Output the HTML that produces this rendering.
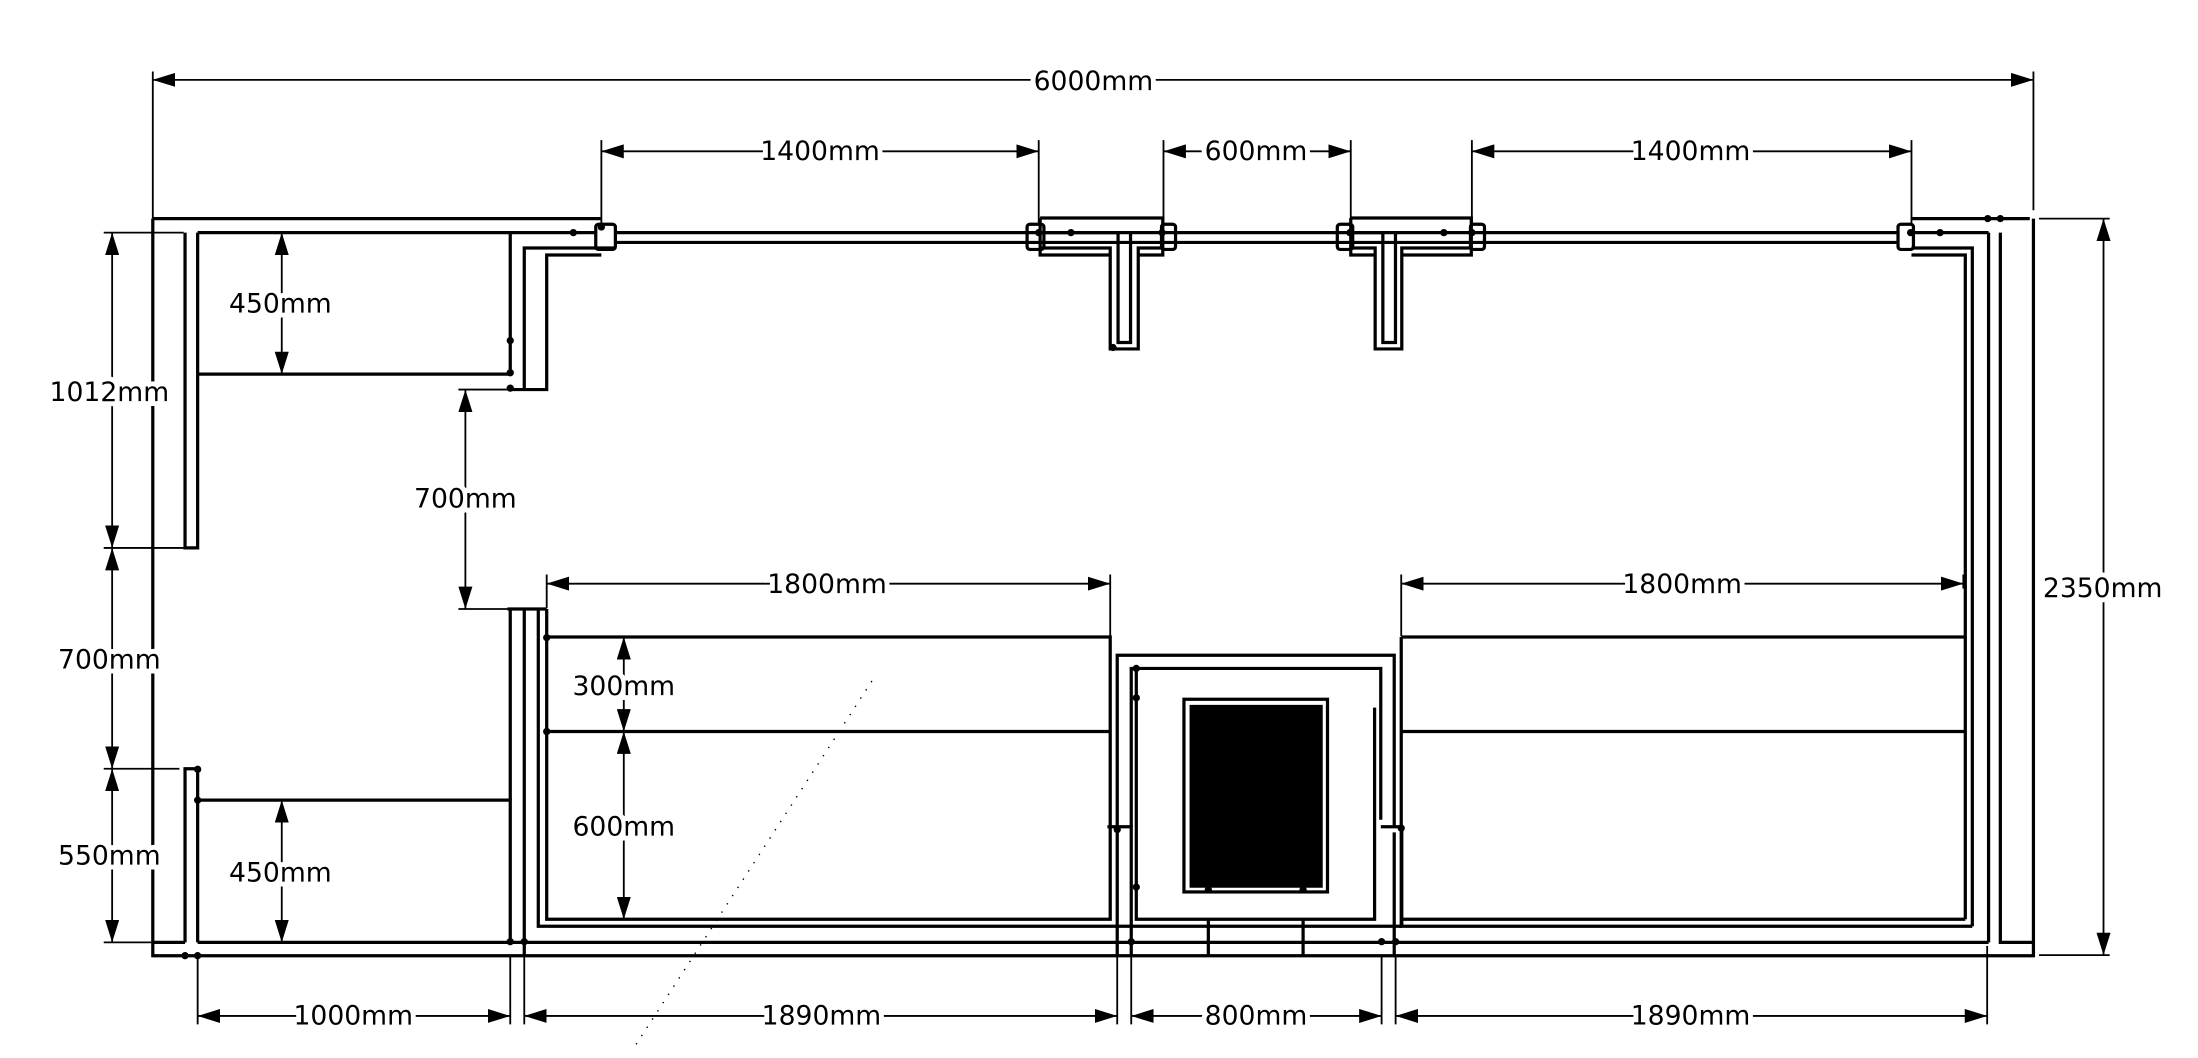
<!DOCTYPE html>
<html><head><meta charset="utf-8"><style>
html,body{margin:0;padding:0;background:#fff;}
svg{display:block;}
text{font-family:"DejaVu Sans","Liberation Sans",sans-serif;font-size:19px;fill:#000;stroke:#fff;stroke-width:7px;paint-order:stroke fill;text-anchor:middle;dominant-baseline:central;}
</style></head><body>
<svg width="2198" height="1058" viewBox="0 0 1568 755" preserveAspectRatio="none" xmlns="http://www.w3.org/2000/svg">
<defs>
<marker id="a" viewBox="0 0 16 10" refX="16" refY="5" markerWidth="16" markerHeight="10" markerUnits="userSpaceOnUse" orient="auto-start-reverse">
<path d="M0,0 L16,5 L0,10 z" fill="#000"/>
</marker>
</defs>
<rect width="1568" height="755" fill="#fff"/>

<g stroke="#000" stroke-width="1.3" fill="none">
  <path d="M109,51V156 M1450.6,51V150 M429,100V160 M741,100V160 M830,100V160 M963.6,100V160 M1050,100V160 M1363.6,100V160
           M74,166H131 M74,391H131 M74,548.6H128 M74,672.5H109
           M327,278H365 M327,434.6H362
           M390,410V434 M792,410V454 M999.6,410V454 M1400.6,410V420
           M1454.6,156H1505 M1454.6,681.6H1505
           M141,682V731 M364,682V731 M374,682V731 M797,682V731 M807,682V731 M985.6,682V731 M995.6,682V731 M1417.6,675V731"/>
  <line x1="109" y1="57" x2="1450.6" y2="57" marker-start="url(#a)" marker-end="url(#a)"/>
  <line x1="429" y1="108" x2="741" y2="108" marker-start="url(#a)" marker-end="url(#a)"/>
  <line x1="830" y1="108" x2="963.6" y2="108" marker-start="url(#a)" marker-end="url(#a)"/>
  <line x1="1050" y1="108" x2="1363.6" y2="108" marker-start="url(#a)" marker-end="url(#a)"/>
  <line x1="80" y1="166" x2="80" y2="391" marker-start="url(#a)" marker-end="url(#a)"/>
  <line x1="80" y1="391" x2="80" y2="548.6" marker-start="url(#a)" marker-end="url(#a)"/>
  <line x1="80" y1="548.6" x2="80" y2="672.5" marker-start="url(#a)" marker-end="url(#a)"/>
  <line x1="332" y1="278" x2="332" y2="434.6" marker-start="url(#a)" marker-end="url(#a)"/>
  <line x1="201" y1="166" x2="201" y2="267" marker-start="url(#a)" marker-end="url(#a)"/>
  <line x1="201" y1="571" x2="201" y2="672.5" marker-start="url(#a)" marker-end="url(#a)"/>
  <line x1="445" y1="454.6" x2="445" y2="522" marker-start="url(#a)" marker-end="url(#a)"/>
  <line x1="445" y1="522" x2="445" y2="656" marker-start="url(#a)" marker-end="url(#a)"/>
  <line x1="390" y1="416.5" x2="792" y2="416.5" marker-start="url(#a)" marker-end="url(#a)"/>
  <line x1="999.6" y1="416.5" x2="1400.6" y2="416.5" marker-start="url(#a)" marker-end="url(#a)"/>
  <line x1="1500.6" y1="156" x2="1500.6" y2="681.6" marker-start="url(#a)" marker-end="url(#a)"/>
  <line x1="141" y1="725" x2="364" y2="725" marker-start="url(#a)" marker-end="url(#a)"/>
  <line x1="374" y1="725" x2="797" y2="725" marker-start="url(#a)" marker-end="url(#a)"/>
  <line x1="807" y1="725" x2="985.6" y2="725" marker-start="url(#a)" marker-end="url(#a)"/>
  <line x1="995.6" y1="725" x2="1417.6" y2="725" marker-start="url(#a)" marker-end="url(#a)"/>
</g>

<line x1="622" y1="486" x2="452" y2="748" stroke="#000" stroke-width="1" stroke-dasharray="1 6"/>

<g stroke="#000" stroke-width="2.3" fill="none">
  <path d="M109,156H429 M109,156V682H1450.6V156 M1363.6,156H1448"/>
  <path d="M132,166V391H141V166 M141,166H425"/>
  <path d="M132,672.5V548.6H141V672.5 M109,672.5H132 M141,672.5H1418.6"/>
  <path d="M141,267H364V166"/>
  <path d="M364,278H390V182H429 M374,278V177H439"/>
  <path d="M439,166H1355 M439,173H1355"/>
  <rect x="425" y="160" width="14" height="18" rx="2"/>
  <rect x="732.7" y="160" width="12" height="18" rx="2"/>
  <rect x="828.6" y="160" width="10" height="18" rx="2"/>
  <rect x="954" y="160" width="11" height="18" rx="2"/>
  <rect x="1049" y="160" width="10" height="18" rx="2"/>
  <rect x="1354" y="160" width="11" height="18" rx="2"/>
  <path d="M742,155.6H829.5V182H812 M742,155.6V182H792"/>
  <path d="M742,177H792V249H812V177H829.5"/>
  <path d="M742,166H797.6V244.4H806.5V166"/>
  <path d="M963.6,155.6H1049.6V182H1000 M963.6,155.6V182H981"/>
  <path d="M963.6,177H981V249H1000V177H1049.6"/>
  <path d="M963.6,166H986.5V244.4H995.5V166"/>
  <path d="M1363.6,177H1407V661 M1363.6,182H1402V656 M1418.6,166V672.5 M1427,166V672.5H1450.6 M1365,166H1418.6"/>
  <path d="M141,571H364V672.5"/>
  <path d="M362,434.6H390 M374,434.6V682 M364,434.6V571"/>
  <path d="M384,434.6V661H797 M390,434.6V656H792V454.6H390 M390,522H792"/>
  <path d="M797,590V467.6H994.6V590 M797,594V682 M994.6,594V682"/>
  <path d="M790,590H807V682 M985,590H1000V661"/>
  <path d="M807,590V477H985V585 M810.6,477V656H980.6V505"/>
  <path d="M797,661H1000 M862,657V682 M929.6,657V682"/>
  <rect x="844.6" y="499" width="102.4" height="137.5"/>
  <path d="M999.6,454.6H1402 M999.6,454.6V661H1407 M999.6,522H1402 M999.6,656H1402"/>
</g>
<rect x="848.6" y="503" width="95" height="130.5" fill="#000"/>
<line x1="810.6" y1="480" x2="810.6" y2="588" stroke="#000" stroke-width="1.8" stroke-dasharray="3 3"/>

<g fill="#000">
  <circle cx="409" cy="166" r="2.6"/><circle cx="429" cy="162" r="2.6"/><circle cx="741" cy="166" r="2.6"/><circle cx="764" cy="166" r="2.6"/>
  <circle cx="829" cy="166" r="2.6"/><circle cx="963" cy="166" r="2.6"/><circle cx="1030" cy="166" r="2.6"/><circle cx="1050" cy="166" r="2.6"/>
  <circle cx="1363" cy="166" r="2.6"/><circle cx="1384" cy="166" r="2.6"/><circle cx="1418" cy="156" r="2.6"/><circle cx="1427" cy="156" r="2.6"/>
  <circle cx="364" cy="243" r="2.6"/><circle cx="364" cy="266" r="2.6"/><circle cx="364" cy="277" r="2.6"/>
  <circle cx="141" cy="571" r="2.6"/><circle cx="141" cy="549" r="2.6"/><circle cx="132" cy="682" r="2.6"/><circle cx="141" cy="682" r="2.6"/>
  <circle cx="364" cy="672" r="2.6"/><circle cx="374" cy="672" r="2.6"/><circle cx="390" cy="455" r="2.6"/><circle cx="390" cy="522" r="2.6"/>
  <circle cx="810.6" cy="477" r="2.6"/><circle cx="810.6" cy="498" r="2.6"/><circle cx="810.6" cy="633" r="2.6"/>
  <circle cx="862" cy="635" r="2.6"/><circle cx="929.6" cy="635" r="2.6"/><circle cx="807" cy="672" r="2.6"/><circle cx="985.6" cy="672" r="2.6"/><circle cx="995.6" cy="672" r="2.6"/>
  <circle cx="999.6" cy="591" r="2.6"/><circle cx="794" cy="248" r="2.6"/><circle cx="797" cy="592" r="2.6"/>
</g>

<text x="780" y="58">6000mm</text>
<text x="585" y="108">1400mm</text>
<text x="896" y="108">600mm</text>
<text x="1206" y="108">1400mm</text>
<text x="78" y="280">1012mm</text>
<text x="78" y="471">700mm</text>
<text x="78" y="611">550mm</text>
<text x="332" y="356">700mm</text>
<text x="200" y="217">450mm</text>
<text x="200" y="623">450mm</text>
<text x="445" y="490">300mm</text>
<text x="445" y="590">600mm</text>
<text x="590" y="417">1800mm</text>
<text x="1200" y="417">1800mm</text>
<text x="1500" y="420">2350mm</text>
<text x="252" y="725">1000mm</text>
<text x="586" y="725">1890mm</text>
<text x="896" y="725">800mm</text>
<text x="1206" y="725">1890mm</text>
</svg>
</body></html>
